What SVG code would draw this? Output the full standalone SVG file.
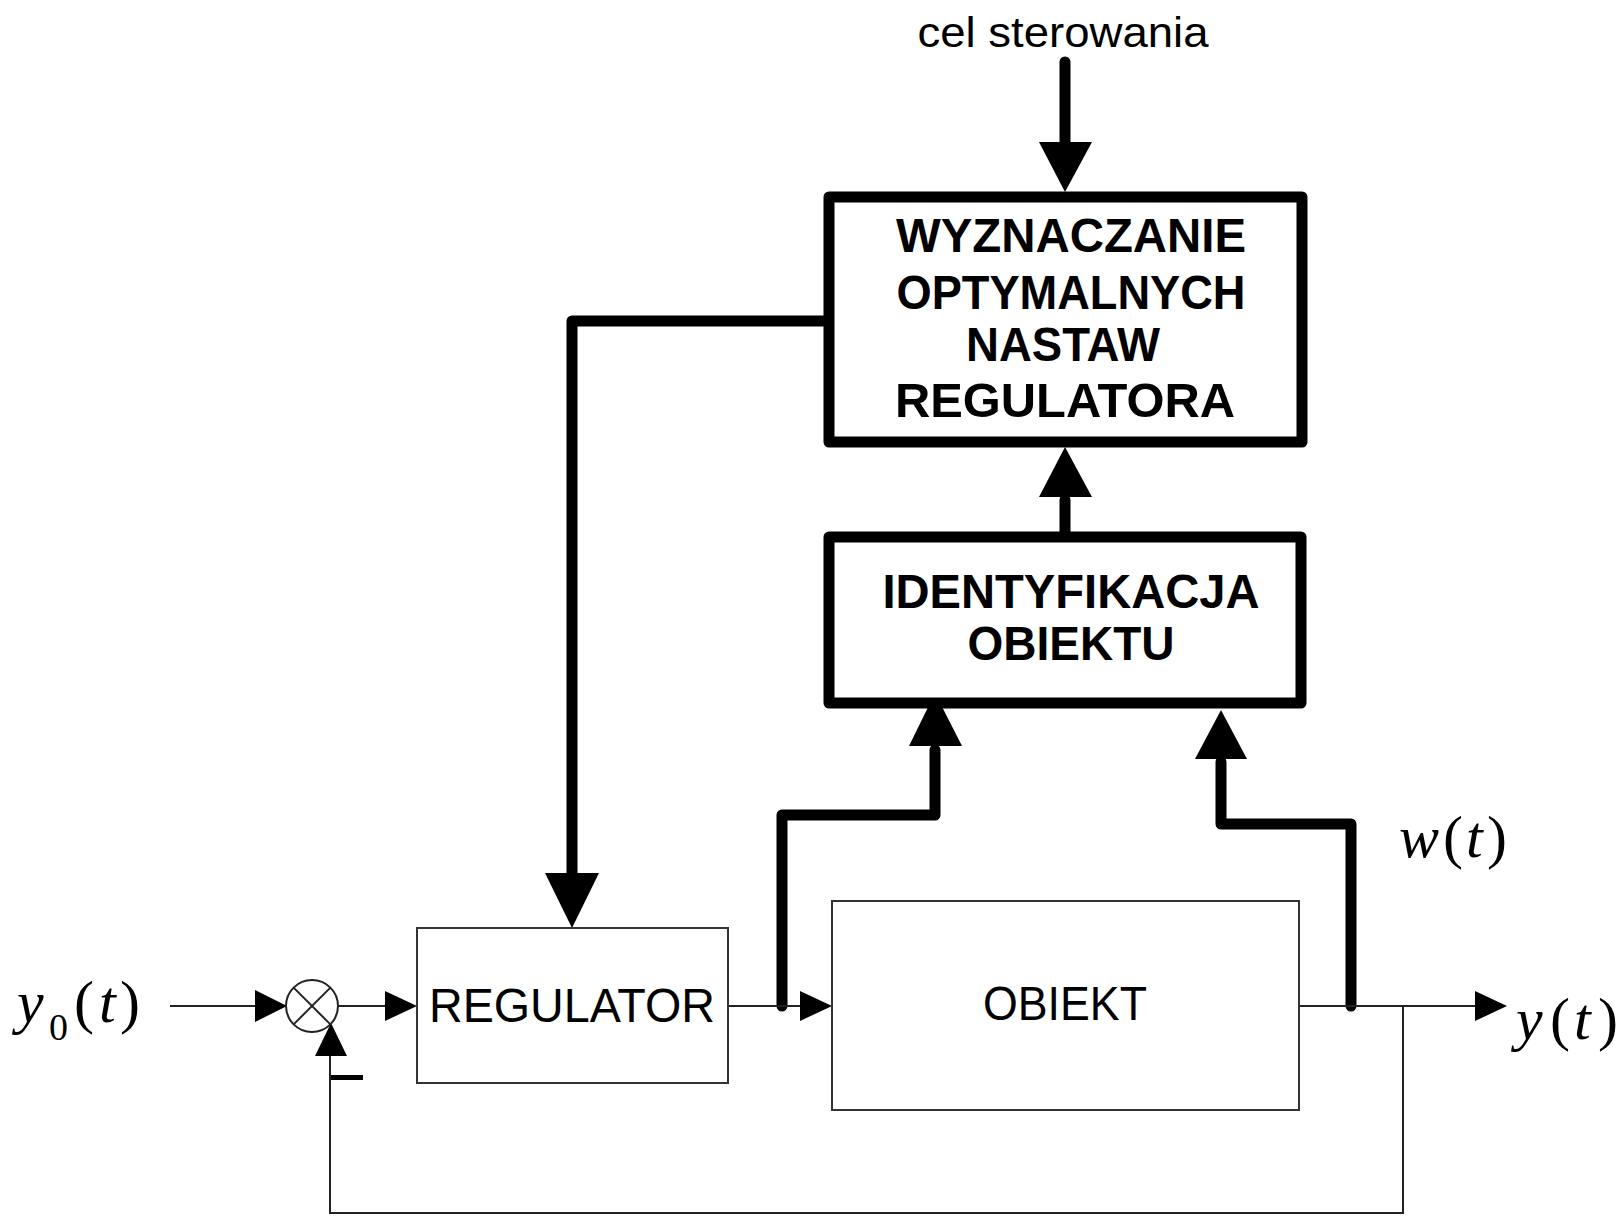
<svg xmlns="http://www.w3.org/2000/svg" width="1624" height="1216" viewBox="0 0 1624 1216">
<style>
.thick{fill:none;stroke:#000;stroke-width:11;stroke-linejoin:round;stroke-linecap:round}
.box{fill:#fff;stroke:#000;stroke-width:11;stroke-linejoin:round}
.thinbox{fill:#fff;stroke:#333;stroke-width:2}
.thin{fill:none;stroke:#222;stroke-width:2}
.head{fill:#000;stroke:none}
.bold{font-family:"Liberation Sans",Arial,sans-serif;font-weight:bold;font-size:48px;fill:#000}
.reg{font-family:"Liberation Sans",Arial,sans-serif;font-size:48px;fill:#000}
.math{font-family:"Liberation Serif","Times New Roman",serif;font-size:60px;fill:#000}
.it{font-style:italic}
</style>
<rect width="1624" height="1216" fill="#fff"/>
<g id="connectors">
  <line class="thick" x1="1065" y1="62" x2="1065" y2="150"/>
  <polygon class="head" points="1039,142 1092,142 1065,192"/>
  <line class="thick" x1="1065" y1="537" x2="1065" y2="500"/>
  <polygon class="head" points="1039,497 1092,497 1065,447"/>
  <polyline class="thick" points="829,321 572,321 572,880"/>
  <polygon class="head" points="545,873 599,873 572,928"/>
  <polyline class="thick" points="782,1006 782,815 935,815 935,750"/>
  <polygon class="head" points="909,746 962,746 935,693"/>
  <polyline class="thick" points="1351,1006 1351,824 1221,824 1221,762"/>
  <polygon class="head" points="1195,759 1247,759 1221,710"/>
  <line class="thin" x1="170" y1="1006" x2="260" y2="1006"/>
  <polygon class="head" points="255,990 255,1022 287,1006"/>
  <line class="thin" x1="338" y1="1006" x2="390" y2="1006"/>
  <polygon class="head" points="385,991 385,1021 417,1006"/>
  <line class="thin" x1="728" y1="1006" x2="805" y2="1006"/>
  <polygon class="head" points="800,991 800,1021 832,1006"/>
  <line class="thin" x1="1299" y1="1006" x2="1480" y2="1006"/>
  <polygon class="head" points="1475,991 1475,1021 1507,1006"/>
  <polyline class="thin" points="1403,1006 1403,1213 330,1213 330,1052"/>
  <polygon class="head" points="315,1056 347,1056 331,1023"/>
  <rect x="331" y="1075" width="32" height="5" fill="#000"/>
</g>
<g id="sumator">
  <circle cx="312" cy="1006" r="26" fill="#fff" stroke="#222" stroke-width="2"/>
  <line class="thin" x1="293.6" y1="987.6" x2="330.4" y2="1024.4"/>
  <line class="thin" x1="330.4" y1="987.6" x2="293.6" y2="1024.4"/>
</g>
<g id="wyznaczanie">
  <rect class="box" x="829" y="197" width="473" height="245"/>
  <text class="bold" x="1071" y="252" text-anchor="middle" textLength="350" lengthAdjust="spacingAndGlyphs">WYZNACZANIE</text>
  <text class="bold" x="1071" y="309" text-anchor="middle" textLength="349" lengthAdjust="spacingAndGlyphs">OPTYMALNYCH</text>
  <text class="bold" x="1063" y="361" text-anchor="middle" textLength="194" lengthAdjust="spacingAndGlyphs">NASTAW</text>
  <text class="bold" x="1065" y="417" text-anchor="middle" textLength="340" lengthAdjust="spacingAndGlyphs">REGULATORA</text>
</g>
<g id="identyfikacja">
  <rect class="box" x="829" y="537" width="472" height="166"/>
  <text class="bold" x="1071" y="608" text-anchor="middle" textLength="377" lengthAdjust="spacingAndGlyphs">IDENTYFIKACJA</text>
  <text class="bold" x="1071" y="660" text-anchor="middle" textLength="207" lengthAdjust="spacingAndGlyphs">OBIEKTU</text>
</g>
<g id="regulator">
  <rect class="thinbox" x="417" y="928" width="311" height="155"/>
  <text class="reg" x="572" y="1022" text-anchor="middle" textLength="286" lengthAdjust="spacingAndGlyphs">REGULATOR</text>
</g>
<g id="obiekt">
  <rect class="thinbox" x="832" y="901" width="467" height="209"/>
  <text class="reg" x="1065" y="1020" text-anchor="middle" font-size="46" textLength="164" lengthAdjust="spacingAndGlyphs">OBIEKT</text>
</g>
<g id="labels">
  <text x="1063" y="47" text-anchor="middle" font-family="Liberation Sans, Arial, sans-serif" font-size="42" textLength="291" lengthAdjust="spacingAndGlyphs">cel sterowania</text>
  <text class="math" y="1022"><tspan class="it" x="17">y</tspan><tspan x="49" y="1040" font-size="38">0</tspan><tspan x="74" y="1022">(</tspan><tspan class="it" x="99">t</tspan><tspan x="120">)</tspan></text>
  <text class="math" y="857"><tspan class="it" x="1399">w</tspan><tspan x="1443">(</tspan><tspan class="it" x="1466">t</tspan><tspan x="1487">)</tspan></text>
  <text class="math" y="1039"><tspan class="it" x="1516">y</tspan><tspan x="1550">(</tspan><tspan class="it" x="1574">t</tspan><tspan x="1598">)</tspan></text>
</g>
</svg>
